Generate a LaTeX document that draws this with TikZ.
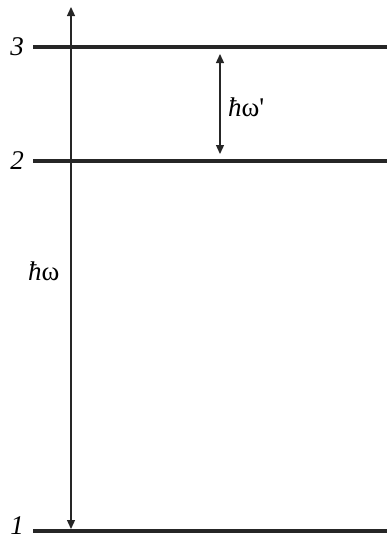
\documentclass[tikz,border=0pt]{standalone}
\usepackage{fontspec}
\setmainfont{Liberation Serif}
\usetikzlibrary{arrows.meta}

\begin{document}
\begin{tikzpicture}[x=1pt, y=-1pt,
  level/.style={line width=3.2pt, black!85},
  lvlabel/.style={anchor=east, inner sep=0pt, font=\fontsize{27}{30}\selectfont\itshape},
  elabel/.style={anchor=base west, inner sep=0pt, font=\fontsize{27}{30}\selectfont},
  arrow/.style={{Triangle[length=9pt,width=8pt]}-{Triangle[length=9pt,width=8pt]}, line width=1.3pt, black!85}
]
  \useasboundingbox (0,0) rectangle (387,542);
  % energy levels
  \coordinate (l3a) at (33,47);  \coordinate (l3b) at (387,47);
  \coordinate (l2a) at (33,161); \coordinate (l2b) at (387,161);
  \coordinate (l1a) at (33,531); \coordinate (l1b) at (387,531);
  \draw[level] (l3a) -- (l3b);
  \draw[level] (l2a) -- (l2b);
  \draw[level] (l1a) -- (l1b);
  \node[lvlabel] (n3) at (24,47) {3};
  \node[lvlabel] (n2) at (24,161) {2};
  \node[lvlabel] (n1) at (24,526) {1};
  % transitions
  \coordinate (bigtop) at (71,7);   \coordinate (bigbot) at (71,529);
  \coordinate (smtop) at (220,54);  \coordinate (smbot) at (220,154);
  \draw[arrow] (bigtop) -- (bigbot);
  \draw[arrow] (smtop) -- (smbot);
  \node[elabel] (hw) at (28,280) {{\itshape ħ}ω};
  \node[elabel] (hwp) at (228,116) {{\itshape ħ}ω\textquotesingle};
\end{tikzpicture}
\end{document}
